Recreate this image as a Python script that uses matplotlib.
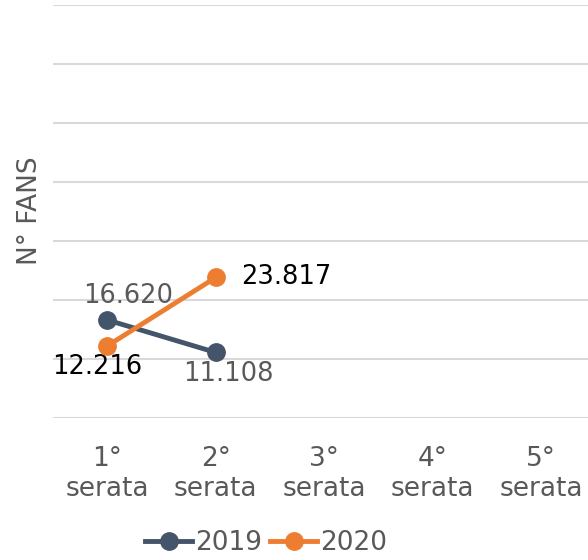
import matplotlib.pyplot as plt

plt.rcParams['font.family'] = ['DejaVu Sans']

categorie = ["1°\nserata", "2°\nserata", "3°\nserata", "4°\nserata", "5°\nserata"]
fans_2019 = [16620, 11108]
fans_2020 = [12216, 23817]
anni = ["2019", "2020"]

col_2019 = "#44546A"
col_2020 = "#ED7D31"
grigio = "#595959"

fig = plt.figure(figsize=(5.88, 5.6), dpi=100)
ax = fig.add_axes([53 / 588, (560 - 418) / 560, 542.5 / 588, 413 / 560])

x = list(range(len(categorie)))
ax.plot(x[:len(fans_2019)], fans_2019, color=col_2019, lw=3.5, marker='o', ms=12.5, label=anni[0], zorder=3)
ax.plot(x[:len(fans_2020)], fans_2020, color=col_2020, lw=3.5, marker='o', ms=12.5, label=anni[1], zorder=4)

def fmt(v):
    return f"{v:,}".replace(",", ".")

# etichette dati
ax.annotate(fmt(fans_2019[0]), (0, fans_2019[0]), xytext=(15, 8), textcoords='offset points',
            ha='center', va='bottom', fontsize=18.5, color=grigio)
ax.annotate(fmt(fans_2019[1]), (1, fans_2019[1]), xytext=(9, -6), textcoords='offset points',
            ha='center', va='top', fontsize=18.5, color=grigio)
ax.annotate(fmt(fans_2020[0]), (0, fans_2020[0]), xytext=(-7, -6), textcoords='offset points',
            ha='center', va='top', fontsize=18.5, color='black')
ax.annotate(fmt(fans_2020[1]), (1, fans_2020[1]), xytext=(18, 0), textcoords='offset points',
            ha='left', va='center', fontsize=18.5, color='black')

ax.set_xlim(-0.5, len(categorie) - 0.5)
ax.set_ylim(0, 70000)
ax.set_yticks(range(0, 70001, 10000))
ax.set_yticklabels([])
ax.set_xticks(x)
ax.set_xticklabels(categorie, fontsize=19, color=grigio, linespacing=1.2)
ax.tick_params(length=0, pad=20)
ax.grid(axis='y', color='#D9D9D9', lw=1.5)
ax.set_axisbelow(True)
for s in ax.spines.values():
    s.set_visible(False)

fig.text(30 / 588, 1 - 211 / 560, "N° FANS", rotation=90, ha='center', va='center',
         fontsize=19, color=grigio)

leg = fig.legend(loc='center', bbox_to_anchor=(266 / 588, 1 - 543 / 560), ncol=2, frameon=False,
                 fontsize=19, handlelength=1.8, handletextpad=0.1, columnspacing=0.3,
                 borderpad=0, borderaxespad=0)
for t in leg.get_texts():
    t.set_color(grigio)

fig.savefig("out.png", dpi=100)
